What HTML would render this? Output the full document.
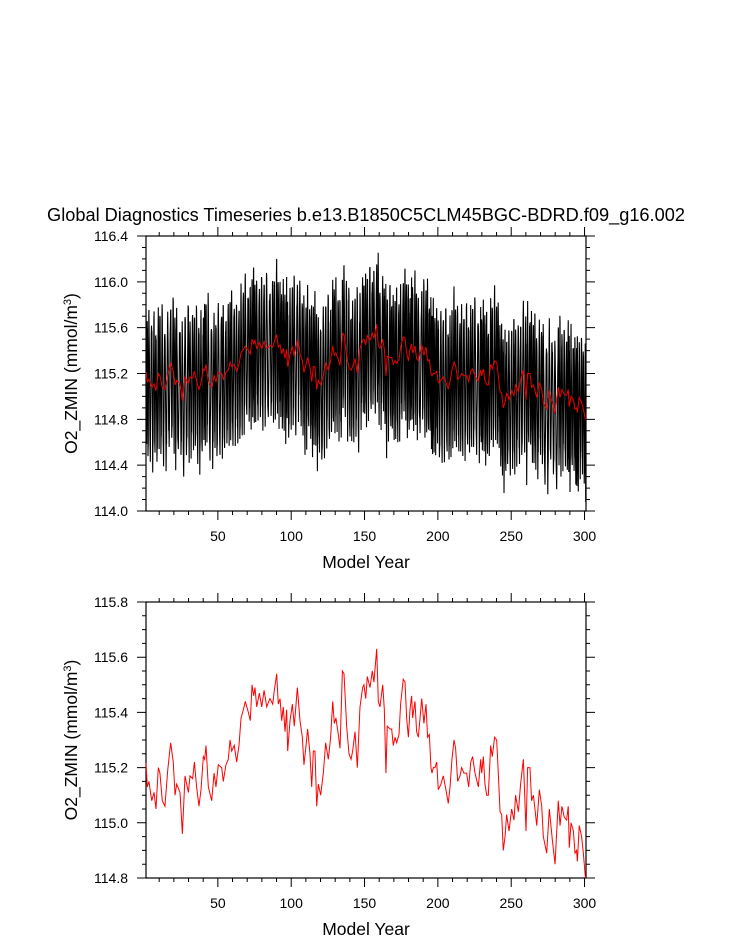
<!DOCTYPE html>
<html><head><meta charset="utf-8"><style>
body{margin:0;background:#fff}
svg{display:block;font-family:"Liberation Sans",sans-serif}
</style></head><body>
<svg id="chart" width="733" height="945" viewBox="0 0 733 945" xmlns="http://www.w3.org/2000/svg">
<text x="366" y="221" font-size="18.2" text-anchor="middle">Global Diagnostics Timeseries b.e13.B1850C5CLM45BGC-BDRD.f09_g16.002</text>
<g id="topPanel"></g>
<g id="botPanel"></g>
</svg>
<script>
const years=[1,1.9,3.0,4.9,6.5,7.8,9.4,10.5,12.1,13.9,15.8,17.8,19.6,20.8,21.9,24.2,25.8,27.6,29.9,31,32.8,34,35.5,37.1,38.5,40.1,41,41.9,43.5,45.8,47.4,48.7,50.3,52.6,53.7,55.5,57.1,58.3,59.4,61.2,62.8,64.4,65.8,67.4,68.7,70.8,72.1,73.3,74.4,75.3,76.5,78.3,79.9,81.5,83.3,85.5,87.4,88.5,90.1,91.2,92.4,93.5,94.6,95.8,96.9,97.6,99.2,100.8,102.1,104.2,106,107.6,108.7,110.1,111.2,112.8,114,115.1,116.2,117.4,118.5,120.1,121.9,123.5,125.3,126.9,128.3,129.4,130.5,132.1,133.3,134.9,136,137.8,139.4,140.8,141.9,143.5,145.1,146.9,148.7,149.6,150.8,151.9,153.7,155.3,156.4,158.3,159.4,160.5,162.4,163.5,164.6,165.5,167.4,168.5,169.6,170.8,171.9,173.5,174.6,176.4,177.6,178.7,179.9,181,182.1,182.8,184.4,185.5,186.7,189,190.5,191.9,193.0,194.2,195.3,196,196.9,198,199.2,200.3,202.1,203.7,205.5,207.1,208.3,209.6,211,212.1,213.5,215.1,216.2,217.8,219.6,221,222.4,223.7,225.3,227.6,229.2,229.9,231,232.1,233.3,234.4,236,237.1,238.7,240.1,241.2,242.4,243.5,244.6,245.8,246.9,248.5,250.3,251.9,253,254.9,256.4,258.3,260.1,261.2,262.8,263.9,265.1,266.2,267.4,269.2,270.8,271.9,274.2,276,278,279.9,282.1,283.3,284.6,286.2,287.8,288.9,289.6,290.8,292.4,293.5,294.6,295.1,296.4,298,299.2,300.6];
const annualO2=[115.215,115.13,115.15,115.08,115.11,115.05,115.20,115.18,115.08,115.06,115.19,115.29,115.22,115.10,115.14,115.11,114.96,115.17,115.11,115.17,115.16,115.22,115.13,115.06,115.12,115.24,115.23,115.28,115.13,115.08,115.18,115.13,115.21,115.20,115.15,115.21,115.23,115.30,115.26,115.28,115.22,115.28,115.38,115.41,115.44,115.40,115.37,115.50,115.46,115.49,115.42,115.47,115.42,115.48,115.42,115.45,115.43,115.48,115.54,115.43,115.45,115.37,115.42,115.33,115.41,115.26,115.37,115.43,115.35,115.49,115.37,115.31,115.21,115.28,115.34,115.25,115.13,115.26,115.26,115.06,115.14,115.10,115.18,115.29,115.23,115.31,115.44,115.36,115.38,115.32,115.27,115.55,115.54,115.35,115.25,115.23,115.26,115.33,115.20,115.42,115.49,115.50,115.45,115.53,115.49,115.55,115.51,115.63,115.44,115.42,115.50,115.41,115.18,115.35,115.34,115.34,115.28,115.31,115.29,115.32,115.43,115.52,115.51,115.38,115.31,115.41,115.46,115.38,115.44,115.33,115.31,115.45,115.36,115.43,115.31,115.32,115.20,115.18,115.20,115.20,115.22,115.12,115.14,115.17,115.12,115.07,115.13,115.23,115.30,115.27,115.15,115.17,115.20,115.18,115.18,115.13,115.22,115.24,115.18,115.13,115.23,115.18,115.24,115.14,115.10,115.10,115.28,115.24,115.31,115.30,115.18,115.04,115.03,114.90,114.95,115.03,114.97,115.05,115.01,115.10,115.04,115.14,115.23,114.97,115.20,115.20,115.08,115.10,115.05,114.99,115.12,115.06,114.95,114.89,115.05,114.94,114.85,115.08,114.99,115.06,115.02,115.01,115.06,114.91,115.00,114.97,114.89,114.90,114.86,114.99,114.95,114.89,114.80];
const seasonal=[0.55,0.42,0.18,-0.12,-0.42,-0.62,-0.6,-0.45,-0.2,0.1,0.36,0.52];
const ampMod=[1.0,0.85,1.1,0.9,1.15,0.8,1.05,0.95,1.2,0.88];
const xTicks=[50,100,150,200,250,300];
const topYTicks=["114.0","114.4","114.8","115.2","115.6","116.0","116.4"];
const botYTicks=["114.8","115.0","115.2","115.4","115.6","115.8"];

const NS="http://www.w3.org/2000/svg";
function mk(parent,tag,attrs){const e=document.createElementNS(NS,tag);for(const k in attrs)e.setAttribute(k,attrs[k]);parent.appendChild(e);return e;}
function panel(g,y0,y1,ymin,ymax,yTicks,minorStep){
  const x0=146,x1=586;
  const X=v=>x0+(v-1)*(x1-x0)/300;
  const Y=v=>y1-(v-ymin)*(y1-y0)/(ymax-ymin);
  const ax=mk(g,'g',{});
  
  
  let d='';
  for(let t=10;t<=300;t+=10){const len=(t%50===0)?9:4;const x=X(t);d+=`M${x},${y1}v${len}M${x},${y0}v${-len}`;}
  const n=Math.round((ymax-ymin)/minorStep);
  for(let i=0;i<=n;i++){const v=ymin+i*minorStep;const major=(i%4===0);const len=major?9:4;const y=Y(v);d+=`M${x0},${y}h${-len}M${x1},${y}h${len}`;}
  mk(ax,'path',{d:d,stroke:'#000','stroke-width':1,fill:'none'});
  mk(ax,'rect',{x:x0,y:y0,width:x1-x0,height:y1-y0,fill:'none',stroke:'#000','stroke-width':1.2});
  xTicks.forEach(t=>{const e=mk(ax,'text',{x:X(t),y:y1+30,'font-size':14,'text-anchor':'middle'});e.textContent=t;
    
    });
  yTicks.forEach(s=>{const e=mk(ax,'text',{x:128,y:Y(parseFloat(s))+5,'font-size':14,'text-anchor':'end'});e.textContent=s;
    
    });
  const xt=mk(ax,'text',{x:366,y:y1+57,'font-size':17.5,'text-anchor':'middle'});xt.textContent='Model Year';
  
  
  const yc=(y0+y1)/2;
  const yt=mk(ax,'text',{x:77,y:yc,'font-size':17.5,'text-anchor':'middle',transform:`rotate(-90 77 ${yc})`});
  yt.innerHTML='O2_ZMIN (mmol/m<tspan dy="-6" font-size="11">3</tspan><tspan dy="6">)</tspan>';
  
  
  return {X,Y};
}
const topG=document.getElementById('topPanel'),botG=document.getElementById('botPanel');
const A=panel(topG,236,511,114.0,116.4,topYTicks,0.1);
const B=panel(botG,602,878,114.8,115.8,botYTicks,0.05);
let dm='';
for(let i=0;i<years.length;i++){
  const ya=years[i],yb=(i+1<years.length)?years[i+1]:301;
  for(let m=0;m<12;m++){
    const yr=ya+(yb-ya)*m/12;
    const v=annualO2[i]+seasonal[m]*ampMod[(i+m)%ampMod.length];
    dm+=(dm?'L':'M')+A.X(yr).toFixed(2)+','+A.Y(v).toFixed(2);
  }
}
const ml=mk(topG,'path',{d:dm,stroke:'#000','stroke-width':1.1,fill:'none'});


const da=years.map((y,i)=>(i?'L':'M')+A.X(y).toFixed(2)+','+A.Y(annualO2[i]).toFixed(2)).join('');
const al=mk(topG,'path',{d:da,stroke:'#e00','stroke-width':1,fill:'none'});


const db=years.map((y,i)=>(i?'L':'M')+B.X(y).toFixed(2)+','+B.Y(annualO2[i]).toFixed(2)).join('');
const bl=mk(botG,'path',{d:db,stroke:'#f00','stroke-width':1,fill:'none'});


</script>
</body></html>
